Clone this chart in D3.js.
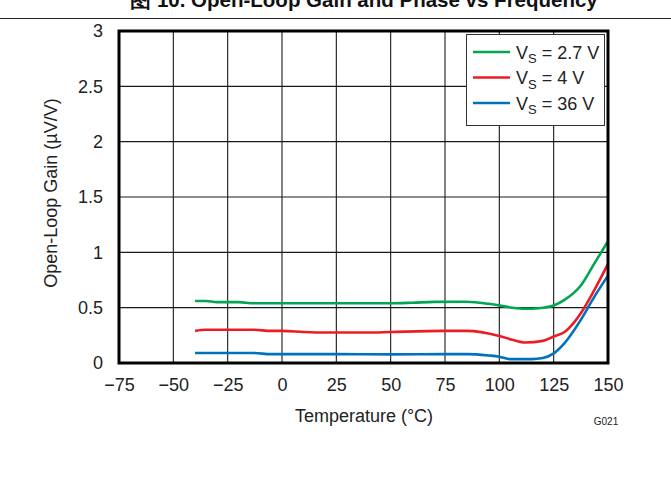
<!DOCTYPE html>
<html>
<head>
<meta charset="utf-8">
<script src="https://cdn.jsdelivr.net/npm/d3@7"></script>
<style>
  body { margin: 0; background: #fff; }
  text { font-family: "Liberation Sans", Arial, sans-serif; fill: #222; }
</style>
</head>
<body>
<div id="chart"></div>
<script>
// readings, temperature in °C, gain in µV/V
temps2v7 = [-40, -35, -30, -20, -13, 0, 25, 50, 60, 70, 85, 95, 100, 106, 112, 118, 125, 130, 137.5, 143.75, 150];
gain2v7 = [0.56, 0.56, 0.55, 0.55, 0.54, 0.54, 0.54, 0.54, 0.545, 0.552, 0.554, 0.535, 0.52, 0.5, 0.49, 0.495, 0.52, 0.57, 0.70, 0.90, 1.10];

temps4v = [-40, -35, -25, -13, -5, 0, 10, 20, 40, 50, 75, 85, 100, 106, 112, 120, 125, 130, 137.5, 143.75, 150];
gain4v = [0.29, 0.30, 0.30, 0.30, 0.29, 0.29, 0.28, 0.275, 0.275, 0.28, 0.29, 0.29, 0.244, 0.21, 0.185, 0.2, 0.24, 0.28, 0.45, 0.66, 0.895];

temps36v = [-40, -25, -13, -5, 0, 25, 50, 75, 85, 95, 100, 105, 115, 120, 125, 130, 137.5, 143.75, 150];
gain36v = [0.09, 0.09, 0.09, 0.08, 0.08, 0.08, 0.078, 0.08, 0.08, 0.068, 0.057, 0.035, 0.035, 0.045, 0.087, 0.18, 0.39, 0.60, 0.79];

xTicks = [-75, -50, -25, 0, 25, 50, 75, 100, 125, 150];
yTicks = [0, 0.5, 1, 1.5, 2, 2.5, 3];

series = [
  { sub: "S", label: " = 2.7 V", color: "#00a651", x: temps2v7, y: gain2v7 },
  { sub: "S", label: " = 4 V", color: "#ed1c24", x: temps4v, y: gain4v },
  { sub: "S", label: " = 36 V", color: "#0072bc", x: temps36v, y: gain36v }
];

const width = 671, height = 481;
const pLeft = 119, pRight = 608, pTop = 31, pBottom = 363;

const svg = d3.select("#chart").append("svg")
  .attr("width", width)
  .attr("height", height);

// header (cut at the top edge, as in the source page)
svg.append("text")
  .attr("x", 364)
  .attr("y", 7)
  .attr("text-anchor", "middle")
  .style("font-weight", "bold")
  .style("font-size", "20.5px")
  .style("fill", "#111")
  .text("图 10. Open-Loop Gain and Phase vs Frequency");

svg.append("line")
  .attr("x1", 0).attr("x2", width)
  .attr("y1", 18.5).attr("y2", 18.5)
  .attr("stroke", "#222")
  .attr("stroke-width", 1);

const x = d3.scaleLinear().domain([-75, 150]).range([pLeft, pRight]);
const y = d3.scaleLinear().domain([0, 3]).range([pBottom, pTop]);

// grid
const grid = svg.append("g");
grid.selectAll(".vg")
  .data(xTicks.slice(1, -1))
  .join("line")
  .attr("x1", d => x(d)).attr("x2", d => x(d))
  .attr("y1", pTop).attr("y2", pBottom)
  .attr("stroke", "#1a1a1a")
  .attr("stroke-width", 1.1);
grid.selectAll(".hg")
  .data(yTicks.slice(1, -1))
  .join("line")
  .attr("x1", pLeft).attr("x2", pRight)
  .attr("y1", d => y(d)).attr("y2", d => y(d))
  .attr("stroke", "#1a1a1a")
  .attr("stroke-width", 1.1);

// axes labels via d3 axes, no tick marks
const xAxis = svg.append("g")
  .attr("transform", `translate(0,${pBottom})`)
  .call(d3.axisBottom(x).tickValues(xTicks).tickSize(0).tickPadding(15)
    .tickFormat(d => d < 0 ? "\u2212" + Math.abs(d) : d));
xAxis.select(".domain").remove();
xAxis.selectAll("text").style("font-size", "18px").style("fill", "#222");

const yAxis = svg.append("g")
  .attr("transform", `translate(${pLeft},0)`)
  .call(d3.axisLeft(y).tickValues(yTicks).tickSize(0).tickPadding(16)
    .tickFormat(d3.format("")));
yAxis.select(".domain").remove();
yAxis.selectAll("text").style("font-size", "18px").style("fill", "#222");

// lines
const line = d3.line()
  .x(d => x(d[0]))
  .y(d => y(d[1]))
  .curve(d3.curveMonotoneX);

svg.append("g")
  .selectAll("path")
  .data(series)
  .join("path")
  .attr("d", s => line(s.x.map((t, i) => [t, s.y[i]])))
  .attr("fill", "none")
  .attr("stroke", s => s.color)
  .attr("stroke-width", 2.6);

// frame
svg.append("rect")
  .attr("x", pLeft).attr("y", pTop)
  .attr("width", pRight - pLeft).attr("height", pBottom - pTop)
  .attr("fill", "none")
  .attr("stroke", "#000")
  .attr("stroke-width", 3);

// legend
const lg = svg.append("g");
lg.append("rect")
  .attr("x", 466.5).attr("y", 34.5)
  .attr("width", 138).attr("height", 91)
  .attr("fill", "#fff")
  .attr("stroke", "#333")
  .attr("stroke-width", 1);
const items = lg.selectAll("g")
  .data(series)
  .join("g")
  .attr("transform", (d, i) => `translate(473,${52 + i * 25.5})`);
items.append("line")
  .attr("x1", 0).attr("x2", 37)
  .attr("stroke", d => d.color)
  .attr("stroke-width", 2.6);
const lt = items.append("text")
  .attr("x", 43)
  .attr("y", 6.5)
  .style("font-size", "18px");
lt.append("tspan").text("V");
lt.append("tspan").attr("dy", 4.5).style("font-size", "13px").text(d => d.sub);
lt.append("tspan").attr("dy", -4.5).text(d => d.label);

// axis titles
svg.append("text")
  .attr("x", 364).attr("y", 422)
  .attr("text-anchor", "middle")
  .style("font-size", "18px")
  .text("Temperature (°C)");

svg.append("text")
  .attr("transform", "translate(57,193) rotate(-90)")
  .attr("text-anchor", "middle")
  .style("font-size", "18px")
  .text("Open-Loop Gain (µV/V)");

svg.append("text")
  .attr("x", 606).attr("y", 425)
  .attr("text-anchor", "middle")
  .style("font-size", "10px")
  .text("G021");
</script>
</body>
</html>
